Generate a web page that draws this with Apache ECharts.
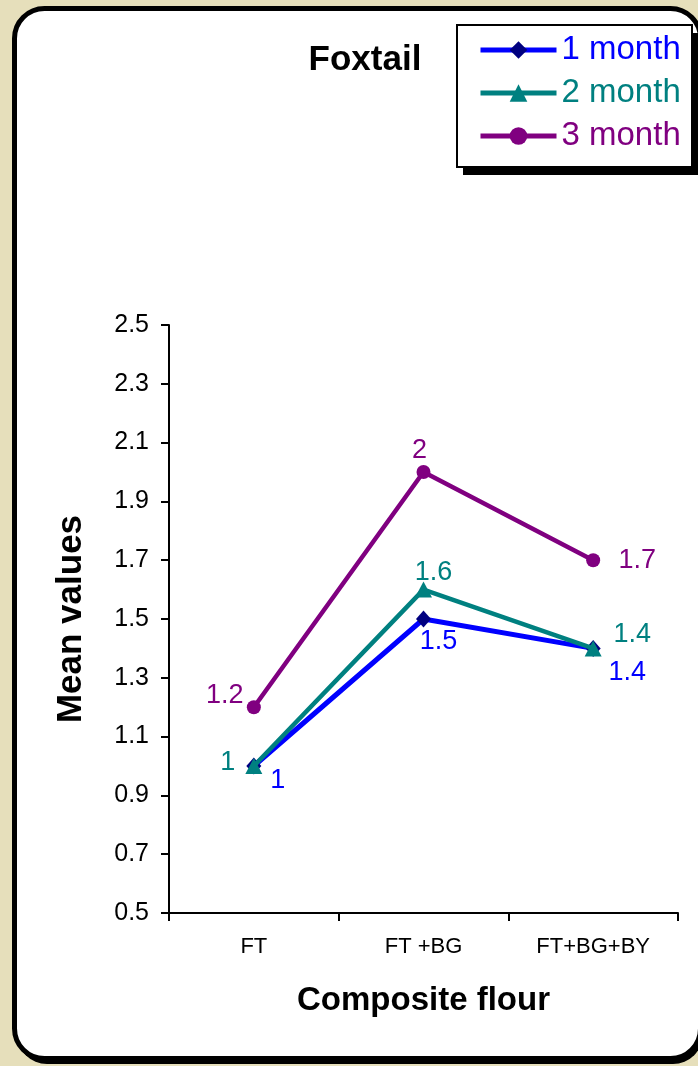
<!DOCTYPE html>
<html>
<head>
<meta charset="utf-8">
<script src="https://cdn.jsdelivr.net/npm/echarts@6/dist/echarts.min.js"></script>
<style>
  html, body { margin: 0; padding: 0; background: #e6dfbb; }
  #chart { width: 698px; height: 1066px; }
</style>
</head>
<body>
<div id="chart"></div>
<script>
// Storage months vs. composite flour blend (Foxtail)
const categories = ['FT', 'FT +BG', 'FT+BG+BY'];
const month1 = [1, 1.5, 1.4];
const month2 = [1, 1.6, 1.4];
const month3 = [1.2, 2, 1.7];
const yTicks = [0.5, 0.7, 0.9, 1.1, 1.3, 1.5, 1.7, 1.9, 2.1, 2.3, 2.5];
const seriesNames = ['1 month', '2 month', '3 month'];

const FONT = '"Liberation Sans", Arial, Helvetica, sans-serif';
const colors = { m1: '#0000ff', m2: '#008080', m3: '#800080' };

// label offsets (from the point centre) so the value labels do not collide
const labelOffsets = {
  m1: [[24, 15], [15, 23], [34, 24]],
  m2: [[-26, -3], [10, -17], [39, -14]],
  m3: [[-29, -12], [-4, -21], [44, 0]]
};

function withLabels(values, offsets, color) {
  return values.map((v, i) => ({
    value: v,
    label: {
      show: true,
      position: 'inside',
      offset: offsets[i],
      color: color,
      fontSize: 27,
      fontFamily: FONT
    }
  }));
}

const chart = echarts.init(document.getElementById('chart'), null, { renderer: 'canvas' });

chart.setOption({
  backgroundColor: '#e6dfbb',
  animation: false,
  graphic: [
    // framed panel with a dark drop edge
    {
      type: 'rect', z: -20, silent: true,
      shape: { x: 17, y: 11, width: 686, height: 1053, r: 30 },
      style: { fill: '#000' }
    },
    {
      type: 'rect', z: -10, silent: true,
      shape: { x: 14.5, y: 8.5, width: 686, height: 1050, r: 30 },
      style: { fill: '#ffffff', stroke: '#000', lineWidth: 5 }
    },
    // legend box and its shadow
    {
      type: 'rect', z: -5, silent: true,
      shape: { x: 463, y: 33, width: 236, height: 142 },
      style: { fill: '#000' }
    },
    {
      type: 'rect', z: -4, silent: true,
      shape: { x: 457, y: 25, width: 235, height: 142 },
      style: { fill: '#ffffff', stroke: '#000', lineWidth: 2 }
    }
  ],
  title: {
    text: 'Foxtail',
    left: 360,
    top: 38,
    textAlign: 'center',
    textStyle: { fontFamily: FONT, fontSize: 35, fontWeight: 'bold', color: '#000' }
  },
  legend: {
    orient: 'vertical',
    left: 457,
    top: 24,
    padding: [9, 9, 12, 21],
    itemGap: 9,
    itemWidth: 76,
    itemHeight: 22,
    textStyle: { fontFamily: FONT, fontSize: 33, lineHeight: 34 },
    lineStyle: { width: 5 },
    data: [
      { name: seriesNames[0], textStyle: { color: colors.m1 } },
      { name: seriesNames[1], textStyle: { color: colors.m2 } },
      { name: seriesNames[2], textStyle: { color: colors.m3 } }
    ]
  },
  grid: { left: 169, right: 20, top: 325, bottom: 153, containLabel: false },
  xAxis: {
    type: 'category',
    data: categories,
    boundaryGap: true,
    name: 'Composite flour',
    nameLocation: 'middle',
    nameGap: 71,
    nameTextStyle: { fontFamily: FONT, fontSize: 33, fontWeight: 'bold', color: '#000' },
    axisLine: { lineStyle: { color: '#000', width: 2 } },
    axisTick: { show: true, alignWithLabel: false, length: 8, lineStyle: { color: '#000', width: 2 } },
    axisLabel: { fontFamily: FONT, fontSize: 22, color: '#000', margin: 23 },
    splitLine: { show: false }
  },
  yAxis: {
    type: 'value',
    min: 0.5,
    max: 2.5,
    name: 'Mean values',
    nameLocation: 'middle',
    nameGap: 80,
    nameTextStyle: { fontFamily: FONT, fontSize: 35, fontWeight: 'bold', color: '#000' },
    axisLine: { show: true, lineStyle: { color: '#000', width: 2 } },
    axisTick: { show: true, length: 8, customValues: yTicks, lineStyle: { color: '#000', width: 2 } },
    axisLabel: {
      fontFamily: FONT, fontSize: 25, color: '#000', margin: 20,
      customValues: yTicks,
      formatter: v => v.toFixed(1)
    },
    splitLine: { show: false }
  },
  series: [
    {
      name: seriesNames[0],
      type: 'line',
      data: withLabels(month1, labelOffsets.m1, colors.m1),
      symbol: 'diamond',
      symbolSize: [15, 17],
      itemStyle: { color: '#000080' },
      lineStyle: { color: colors.m1, width: 5 },
      z: 2
    },
    {
      name: seriesNames[1],
      type: 'line',
      data: withLabels(month2, labelOffsets.m2, colors.m2),
      symbol: 'triangle',
      symbolSize: [17, 16],
      itemStyle: { color: colors.m2 },
      lineStyle: { color: colors.m2, width: 4.5 },
      z: 3
    },
    {
      name: seriesNames[2],
      type: 'line',
      data: withLabels(month3, labelOffsets.m3, colors.m3),
      symbol: 'circle',
      symbolSize: 14,
      itemStyle: { color: colors.m3 },
      lineStyle: { color: colors.m3, width: 4.5 },
      z: 4
    }
  ]
});
</script>
</body>
</html>
